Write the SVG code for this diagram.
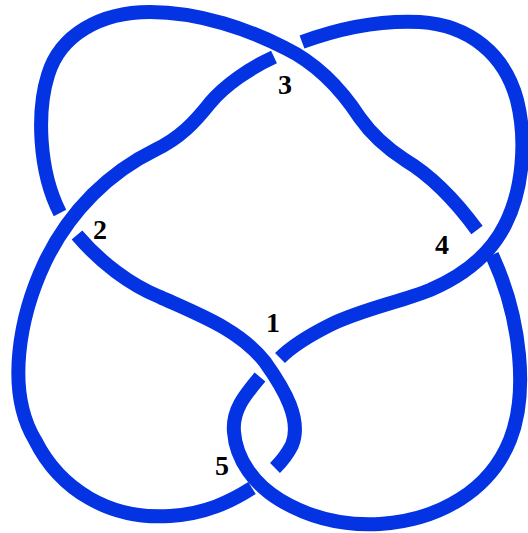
<svg xmlns="http://www.w3.org/2000/svg" width="528" height="533" viewBox="0 0 528 533">
<style>
.s{fill:none;stroke:#0333e3;stroke-width:14;stroke-linecap:butt;stroke-linejoin:round}
.l{font-family:"Liberation Serif","Times New Roman",serif;font-weight:bold;font-size:28px;fill:#000;text-anchor:middle}
</style>
<rect width="528" height="533" fill="#fff"/>
<g id="strands">
<path id="s1" class="s" d="M77,235 C100,262 130,285 160,297 C200,315 240,330 265,362 C285,390 302,420 292,445 C287,455 281,462 275,468"/>
<path id="s2" class="s" d="M302,42 C340,28 380,20 420,22 C470,25 505,55 517,100 C527,140 523,190 505,225 C490,255 465,275 430,290 C400,302 360,310 330,325 C310,335 293,345 280,358"/>
<path id="s3" class="s" d="M477,230 C455,200 430,175 405,160 C385,147 372,135 360,118 C345,95 320,65 285,48 C250,30 200,12 150,12 C100,12 60,35 48,75 C37,110 38,170 60,213"/>
<path id="s4" class="s" d="M274,57 C250,68 225,85 210,103 C195,122 180,138 155,150 C110,172 70,210 45,262 C20,315 5,390 35,440 C60,490 110,520 170,516 C205,514 230,502 252,488"/>
<path id="s5" class="s" d="M260,377 C245,395 232,410 234,432 C236,460 255,485 280,500 C310,518 345,526 380,524 C440,520 490,490 510,440 C528,395 522,320 492,255"/>
</g>
<g id="labels">
<g id="c1"><text class="l" x="273" y="332">1</text></g>
<g id="c2"><text class="l" x="100" y="239">2</text></g>
<g id="c3"><text class="l" x="285" y="94">3</text></g>
<g id="c4"><text class="l" x="442" y="254">4</text></g>
<g id="c5"><text class="l" x="222" y="475">5</text></g>
</g>
</svg>
